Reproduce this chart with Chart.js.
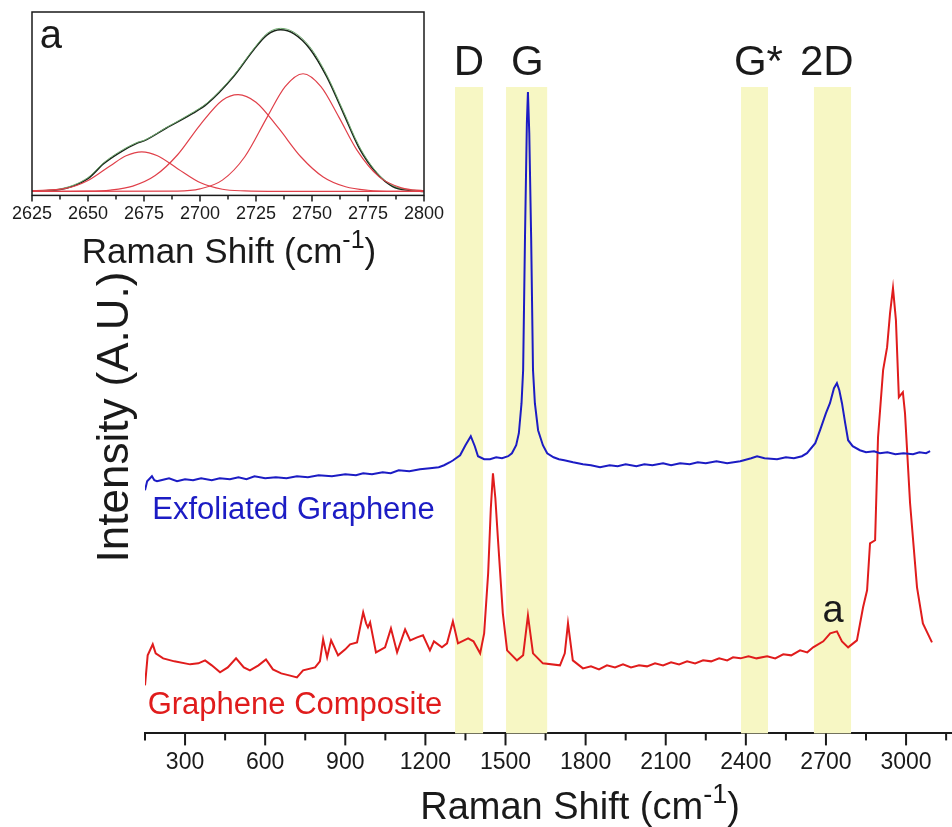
<!DOCTYPE html>
<html>
<head>
<meta charset="utf-8">
<script src="https://cdn.jsdelivr.net/npm/chart.js@4.4.1/dist/chart.umd.min.js"></script>
<style>
  body { margin: 0; background: #fff; }
  #wrap { position: relative; width: 952px; height: 827px; overflow: hidden; }
  #mainChart, #insetChart { position: absolute; left: 0; top: 0; }
</style>
</head>
<body>
<div id="wrap">
  <canvas id="mainChart" width="952" height="827"></canvas>
  <canvas id="insetChart" width="460" height="280"></canvas>
</div>
<script>
// main spectra (Raman shift in cm-1, intensity in arbitrary units)
const blueShift = [150, 158, 176, 185, 195, 210, 240, 270, 300, 330, 360, 400, 430, 468, 500, 530,
  560, 600, 640, 680, 719, 760, 800, 850, 900, 940, 967, 1000, 1040, 1070, 1100, 1140,
  1180, 1217, 1250, 1270, 1292, 1304, 1330, 1350, 1370, 1385, 1397, 1420, 1442, 1465, 1487, 1510,
  1524, 1540, 1550, 1560, 1566, 1573, 1580, 1584, 1589, 1596, 1603, 1610, 1622, 1640, 1656, 1680,
  1700, 1720, 1753, 1790, 1820, 1854, 1890, 1920, 1950, 1990, 2020, 2050, 2090, 2120, 2154, 2190,
  2220, 2250, 2290, 2330, 2379, 2420, 2442, 2470, 2517, 2550, 2580, 2610, 2629, 2660, 2678, 2700,
  2715, 2730, 2741, 2750, 2760, 2772, 2783, 2800, 2827, 2850, 2880, 2902, 2930, 2960, 2990, 3026,
  3050, 3075, 3090];
const blueIntensity = [243, 252, 257, 253, 252, 253, 255, 252, 254, 253, 255, 253, 255, 254, 256, 254,
  257, 255, 256, 255, 257, 256, 258, 257, 259, 258, 260, 259, 261, 260, 263, 262,
  264, 265, 266, 268, 271, 273, 278, 288, 297, 287, 277, 274, 274, 276, 275, 277,
  280, 288, 300, 330, 363, 496, 610, 641, 600, 496, 363, 330, 303, 288, 280, 276,
  274, 273, 271, 269, 268, 266, 268, 267, 269, 267, 269, 268, 270, 268, 270, 269,
  271, 270, 272, 270, 272, 275, 277, 275, 274, 276, 275, 277, 280, 290, 303, 320,
  330, 345, 350, 343, 330, 310, 293, 287, 283, 281, 282, 280, 281, 279, 280, 279,
  281, 280, 282];

const redShift = [150, 160, 179, 190, 218, 260, 319, 350, 375, 400, 431, 460, 491, 520, 543, 575,
  603, 629, 660, 690, 719, 742, 787, 805, 817, 832, 847, 873, 900, 918, 944, 967,
  978, 985, 993, 1015, 1049, 1071, 1094, 1124, 1143, 1169, 1191, 1217, 1232, 1262, 1281, 1303,
  1322, 1360, 1380, 1405, 1420, 1435, 1445, 1453, 1462, 1472, 1490, 1506, 1543, 1566, 1584, 1603,
  1640, 1704, 1722, 1734, 1752, 1790, 1820, 1850, 1880, 1910, 1940, 1970, 2000, 2030, 2060, 2090,
  2120, 2150, 2180, 2210, 2240, 2270, 2300, 2330, 2352, 2380, 2410, 2440, 2480, 2510, 2540, 2570,
  2603, 2630, 2652, 2690, 2716, 2741, 2760, 2783, 2816, 2839, 2854, 2865, 2884, 2895, 2914, 2929,
  2940, 2951, 2962, 2973, 2988, 2996, 3015, 3041, 3063, 3097];
const redIntensity = [48, 78, 89, 80, 75, 72, 69, 70, 73, 68, 61, 66, 75, 66, 63, 68,
  74, 64, 60, 58, 56, 63, 66, 72, 94, 76, 93, 78, 84, 89, 91, 121,
  110, 106, 111, 81, 86, 105, 81, 104, 93, 96, 98, 83, 92, 86, 90, 112,
  90, 95, 92, 80, 100, 160, 225, 260, 235, 193, 120, 83, 73, 78, 118, 80,
  70, 68, 80, 110, 73, 65, 67, 64, 68, 66, 69, 66, 68, 67, 70, 68,
  71, 69, 72, 70, 73, 72, 75, 73, 76, 75, 77, 75, 77, 75, 79, 78,
  83, 81, 86, 92, 100, 102, 92, 86, 93, 126, 143, 190, 193, 296, 363, 386,
  420, 445, 413, 336, 341, 320, 230, 146, 110, 91];

const xTickLabels = [300, 600, 900, 1200, 1500, 1800, 2100, 2400, 2700, 3000];

// highlighted bands
const bandNames = ['D', 'G', 'G*', '2D'];
const bandStart = [1311, 1502, 2382, 2655];
const bandEnd = [1416, 1656, 2483, 2794];
const bandLabelShift = [1363, 1582, 2447, 2703];

// inset: 2D band of the composite with its three-peak fit
const insetShift = [2625, 2637.5, 2650, 2657, 2664, 2672, 2675, 2685, 2697, 2703, 2715, 2724,
  2730, 2736, 2742, 2749, 2756.5, 2764, 2771, 2779, 2786, 2794, 2800];
const insetSum = [0.3, 2, 13, 28, 39, 48.7, 51, 64, 79, 88, 116, 143,
  158, 163, 159, 144, 116, 79, 44, 18, 5, 1, 0];
const insetMeasured = [0.5, 2.5, 14, 29, 40, 49.5, 51.5, 64.5, 80, 89, 117, 144,
  159.5, 164.5, 160.5, 146, 118, 81, 46, 19, 6, 1.5, 0.5];
const fit1Shift = [2625, 2640, 2650, 2660, 2667, 2674, 2681, 2690, 2700, 2710, 2720, 2735, 2800];
const fit1 = [0.8, 3, 11, 26, 36, 40, 36, 23, 9, 2.2, 0.5, 0, 0];
const fit2Shift = [2625, 2650, 2660, 2670, 2680, 2690, 2700, 2710, 2717, 2725, 2735, 2745, 2755, 2765, 2775, 2790, 2800];
const fit2 = [0, 0.3, 1.4, 5.4, 16, 37, 67, 92, 97.7, 90, 64, 35, 14.6, 4.7, 1.2, 0.1, 0];
const fit3Shift = [2625, 2690, 2700, 2710, 2720, 2730, 2738, 2746, 2754, 2762, 2770, 2780, 2790, 2800];
const fit3 = [0, 0.4, 2.6, 11.4, 35, 75, 105.7, 118.7, 105.7, 75, 42, 14.7, 3.6, 0.5];
const insetTickLabels = [2625, 2650, 2675, 2700, 2725, 2750, 2775, 2800];

const FONT = '"Liberation Sans", Arial, Helvetica, sans-serif';
const INK = '#1a1a1a';
const BLUE = '#1c1cc4';
const RED = '#e01c1c';

function pts(xs, ys) {
    return xs.map((x, i) => ({ x: x, y: ys[i] }));
}

// title with the -1 raised as a superscript
function drawShiftTitle(ctx, cx, baseline, size) {
    const supSize = Math.round(size * 0.7);
    const a = 'Raman Shift (cm', b = '-1', c = ')';
    ctx.save();
    ctx.fillStyle = INK;
    ctx.textAlign = 'left';
    ctx.textBaseline = 'alphabetic';
    ctx.font = size + 'px ' + FONT;
    const wa = ctx.measureText(a).width;
    const wc = ctx.measureText(c).width;
    ctx.font = supSize + 'px ' + FONT;
    const wb = ctx.measureText(b).width;
    const x = cx - (wa + wb + wc) / 2;
    ctx.font = size + 'px ' + FONT;
    ctx.fillText(a, x, baseline);
    ctx.fillText(c, x + wa + wb, baseline);
    ctx.font = supSize + 'px ' + FONT;
    ctx.fillText(b, x + wa, baseline - size * 0.42);
    ctx.restore();
}

// major ticks long, minor ticks short
function drawTicks(chart, first, step, majorStep, longLen, shortLen, width) {
    const sx = chart.scales.x, ctx = chart.ctx, y0 = chart.chartArea.bottom;
    ctx.save();
    ctx.strokeStyle = INK;
    ctx.lineWidth = width;
    for (let v = first; v <= sx.max + 1e-6; v += step) {
        const px = sx.getPixelForValue(v);
        const r = v / majorStep;
        const len = Math.abs(r - Math.round(r)) < 1e-6 ? longLen : shortLen;
        ctx.beginPath();
        ctx.moveTo(px, y0);
        ctx.lineTo(px, y0 + len);
        ctx.stroke();
    }
    ctx.restore();
}

const mainDecor = {
    id: 'mainDecor',
    beforeDatasetsDraw(chart) {
        const { ctx, chartArea, scales } = chart;
        ctx.save();
        ctx.fillStyle = '#f7f7c4';
        bandStart.forEach((s, i) => {
            const x1 = scales.x.getPixelForValue(s);
            const x2 = scales.x.getPixelForValue(bandEnd[i]);
            ctx.fillRect(x1, chartArea.top, x2 - x1, chartArea.bottom - chartArea.top);
        });
        ctx.restore();
    },
    afterDraw(chart) {
        const { ctx, scales } = chart;
        drawTicks(chart, 150, 150, 300, 12, 7, 2);
        ctx.save();
        ctx.fillStyle = INK;
        ctx.font = '42px ' + FONT;
        ctx.textAlign = 'center';
        ctx.textBaseline = 'alphabetic';
        bandNames.forEach((n, i) => {
            ctx.fillText(n, scales.x.getPixelForValue(bandLabelShift[i]), 75);
        });
        ctx.textAlign = 'left';
        ctx.font = '31px ' + FONT;
        ctx.fillStyle = BLUE;
        ctx.fillText('Exfoliated Graphene', scales.x.getPixelForValue(177), scales.y.getPixelForValue(214));
        ctx.fillStyle = RED;
        ctx.fillText('Graphene Composite', scales.x.getPixelForValue(160), scales.y.getPixelForValue(19));
        ctx.fillStyle = INK;
        ctx.font = '38px ' + FONT;
        ctx.textAlign = 'center';
        ctx.fillText('a', scales.x.getPixelForValue(2727), scales.y.getPixelForValue(111));
        // y title
        ctx.translate(128, 417);
        ctx.rotate(-Math.PI / 2);
        ctx.font = '44px ' + FONT;
        ctx.fillText('Intensity (A.U.)', 0, 0);
        ctx.restore();
        drawShiftTitle(ctx, 580, 819, 38);
    }
};

new Chart(document.getElementById('mainChart'), {
    type: 'line',
    data: {
        datasets: [
            { label: 'Exfoliated Graphene', data: pts(blueShift, blueIntensity), borderColor: BLUE, borderWidth: 2 },
            { label: 'Graphene Composite', data: pts(redShift, redIntensity), borderColor: RED, borderWidth: 2 }
        ]
    },
    options: {
        responsive: false,
        animation: false,
        devicePixelRatio: 1,
        elements: { point: { radius: 0 }, line: { tension: 0 } },
        layout: { padding: { left: 145, top: 87, right: 0, bottom: 48 } },
        plugins: { legend: { display: false }, tooltip: { enabled: false } },
        scales: {
            x: {
                type: 'linear',
                min: 150,
                max: 3172,
                afterBuildTicks: axis => { axis.ticks = xTickLabels.map(v => ({ value: v })); },
                grid: { display: false, drawTicks: true, tickLength: 12 },
                border: { display: true, color: INK, width: 2 },
                ticks: {
                    autoSkip: false,
                    maxRotation: 0,
                    padding: 3,
                    color: INK,
                    font: { family: FONT, size: 23 },
                    callback: v => String(v)
                }
            },
            y: { display: false, min: 0, max: 646 }
        }
    },
    plugins: [mainDecor]
});

const insetDecor = {
    id: 'insetDecor',
    afterDraw(chart) {
        const { ctx, chartArea, scales } = chart;
        ctx.save();
        ctx.strokeStyle = INK;
        ctx.lineWidth = 1.5;
        ctx.strokeRect(chartArea.left, chartArea.top, chartArea.right - chartArea.left, chartArea.bottom - chartArea.top);
        ctx.fillStyle = INK;
        ctx.font = '40px ' + FONT;
        ctx.textAlign = 'left';
        ctx.fillText('a', scales.x.getPixelForValue(2628.5), scales.y.getPixelForValue(145));
        ctx.restore();
        drawTicks(chart, 2625, 12.5, 25, 6, 4, 1.5);
        drawShiftTitle(ctx, 229, 263, 35);
    }
};

const fitStyle = { borderColor: '#e0404a', borderWidth: 1.2, cubicInterpolationMode: 'monotone' };

new Chart(document.getElementById('insetChart'), {
    type: 'line',
    data: {
        datasets: [
            Object.assign({ label: 'fit 1', data: pts(fit1Shift, fit1) }, fitStyle),
            Object.assign({ label: 'fit 2', data: pts(fit2Shift, fit2) }, fitStyle),
            Object.assign({ label: 'fit 3', data: pts(fit3Shift, fit3) }, fitStyle),
            { label: 'measured', data: pts(insetShift, insetMeasured), borderColor: '#6fa86f', borderWidth: 1, cubicInterpolationMode: 'monotone' },
            { label: 'sum', data: pts(insetShift, insetSum), borderColor: '#1b261b', borderWidth: 1.5, cubicInterpolationMode: 'monotone' }
        ]
    },
    options: {
        responsive: false,
        animation: false,
        devicePixelRatio: 1,
        elements: { point: { radius: 0 } },
        layout: { padding: { left: 32, top: 12, right: 36, bottom: 53 } },
        plugins: { legend: { display: false }, tooltip: { enabled: false } },
        scales: {
            x: {
                type: 'linear',
                min: 2625,
                max: 2800,
                afterBuildTicks: axis => { axis.ticks = insetTickLabels.map(v => ({ value: v })); },
                grid: { display: false, drawTicks: true, tickLength: 6 },
                border: { display: false },
                ticks: {
                    autoSkip: false,
                    maxRotation: 0,
                    padding: 2,
                    color: INK,
                    font: { family: FONT, size: 18 },
                    callback: v => String(v)
                }
            },
            y: { display: false, min: -4, max: 181 }
        }
    },
    plugins: [insetDecor]
});
</script>
</body>
</html>
